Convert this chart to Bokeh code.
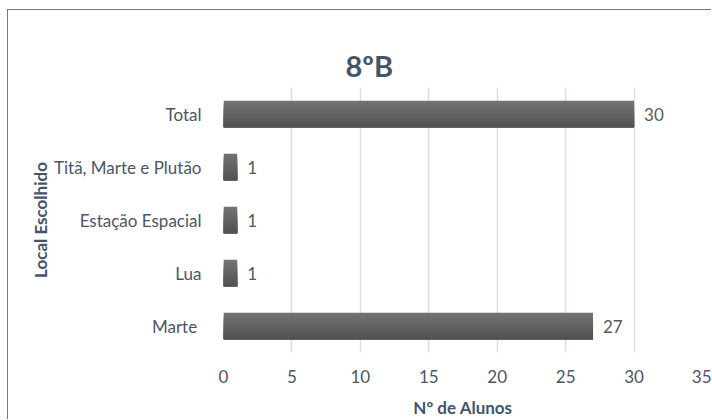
from bokeh.plotting import figure
from bokeh.models import ColumnDataSource, Range1d, FactorRange, FixedTicker, LabelSet, Title
from bokeh.core.properties import value
from bokeh.transform import dodge
from bokeh.embed import file_html
from bokeh.resources import INLINE

categories = ["Marte ", "Lua", "Estação Espacial", "Titã, Marte e Plutão", "Total"]
values = [27, 1, 1, 1, 30]
x_ticks = [0, 5, 10, 15, 20, 25, 30, 35]
title_text = "8ºB"
x_title = "Nº de Alunos"
y_title = "Local Escolhido"

FONT = "Lato"
TXT = "#44546A"
TICK = "#4d5566"

p = figure(width=704, height=410, output_backend="svg", toolbar_location=None,
           y_range=FactorRange(*categories), x_range=Range1d(0, 35),
           min_border_left=215, min_border_right=10, min_border_top=77, min_border_bottom=62)
p.styles = {"border-left": "1.5px solid #777777", "border-top": "1.5px solid #777777",
            "margin-left": "7px", "margin-top": "9px"}
p.outline_line_color = None
p.background_fill_color = "white"
p.border_fill_color = "white"
p.title_location = None

src = ColumnDataSource(dict(cat=categories, val=values, lab=[str(v) for v in values]))

# gradient-like bar: successively shorter, darker bars anchored at the bottom
n = 10
bar_h = 0.5
strip = bar_h / n
top_c = (0x72, 0x72, 0x72)
bot_c = (0x52, 0x52, 0x52)
for i in range(n):
    t = i / (n - 1)
    c = tuple(int(round(top_c[k] * (1 - t) + bot_c[k] * t)) for k in range(3))
    col = "#%02x%02x%02x" % c
    h = bar_h - i * strip
    off = -bar_h / 2 + h / 2
    p.hbar(y=dodge("cat", off, range=p.y_range), right="val", left=0, height=h,
           source=src, fill_color=col, line_color=None)

labels = LabelSet(x="val", y="cat", text="lab", source=src, x_offset=10, y_offset=0,
                  text_baseline="middle", text_font=value(FONT), text_font_size="17px",
                  text_color="#595959")
p.add_layout(labels)

p.xaxis.ticker = FixedTicker(ticks=x_ticks)
p.xaxis.axis_line_color = None
p.yaxis.axis_line_color = None
p.xaxis.major_tick_line_color = None
p.yaxis.major_tick_line_color = None
p.xaxis.minor_tick_line_color = None
p.xaxis.major_label_text_font = FONT
p.yaxis.major_label_text_font = FONT
p.xaxis.major_label_text_font_size = "17px"
p.yaxis.major_label_text_font_size = "17px"
p.xaxis.major_label_text_color = TICK
p.yaxis.major_label_text_color = TICK
p.xaxis.major_label_standoff = 11
p.yaxis.major_label_standoff = 16
p.xaxis.axis_label = x_title
p.yaxis.axis_label = y_title
for ax in (p.xaxis, p.yaxis):
    ax.axis_label_text_font = FONT
    ax.axis_label_text_font_size = "17px"
    ax.axis_label_text_font_style = "bold"
    ax.axis_label_text_color = TXT
p.xaxis.axis_label_standoff = 11
p.yaxis.axis_label_standoff = 0

p.xgrid.grid_line_color = "#d9dfe8"
p.xgrid.grid_line_width = 1.5
p.ygrid.grid_line_color = None

# title first (outermost), then a blank spacer panel between it and the plot area
p.add_layout(Title(text=title_text, align="left", offset=122, standoff=10,
                   text_font=FONT, text_font_size="29px", text_font_style="bold",
                   text_color=TXT), "above")
p.add_layout(Title(text=" ", text_font_size="16px", standoff=5, text_alpha=0), "above")

open("out.html", "w").write(file_html(p, INLINE))
